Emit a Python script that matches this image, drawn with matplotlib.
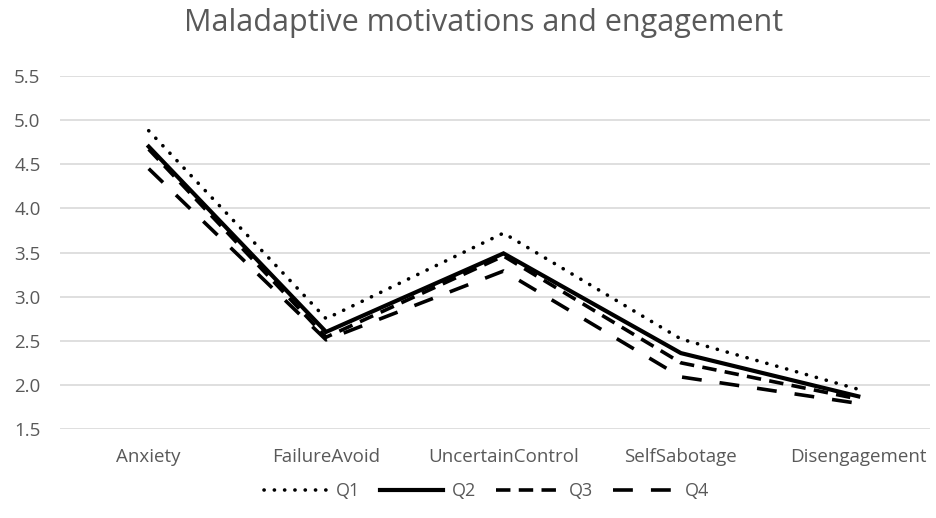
import numpy as np
import matplotlib
matplotlib.use("Agg")
from matplotlib import pyplot as plt

# values
categories = ["Anxiety", "FailureAvoid", "UncertainControl", "SelfSabotage", "Disengagement"]
q1 = [4.88, 2.75, 3.72, 2.52, 1.95]
q2 = [4.70, 2.60, 3.49, 2.36, 1.87]
q3 = [4.67, 2.54, 3.46, 2.25, 1.84]
q4 = [4.45, 2.51, 3.29, 2.09, 1.79]
yticks = [1.5, 2.0, 2.5, 3.0, 3.5, 4.0, 4.5, 5.0, 5.5]

plt.rcParams['font.family'] = ['Open Sans', 'DejaVu Sans']
grey = '#595959'

fig = plt.figure(figsize=(9.36, 5.18), dpi=100)
ax = fig.add_axes([60/936, (518-429)/518, (930-60)/936, (429-76)/518])

x = np.arange(len(categories))
lw = 2.6
ax.plot(x, q1, color='black', lw=lw, linestyle=(0, (0.05, 2.8)),
        dash_capstyle='round', label='Q1')
ax.plot(x, q2, color='black', lw=lw + 0.4, solid_joinstyle='miter', label='Q2')
ax.plot(x, q3, color='black', lw=lw, linestyle=(0, (4.0, 2.3)), label='Q3')
ax.plot(x, q4, color='black', lw=lw, linestyle=(0, (5.5, 5.0)), label='Q4')

ax.set_xlim(-0.5, 4.5 - 17/177.5)
ax.set_ylim(1.5, 5.5)
ax.set_yticks(yticks)
ax.set_yticklabels(['%.1f' % v for v in yticks])
ax.set_xticks(x)
ax.set_xticklabels(categories)
ax.grid(axis='y', color='#d9d9d9', lw=1.2)
ax.set_axisbelow(True)
for s in ax.spines.values():
    s.set_visible(False)
ax.tick_params(axis='both', length=0, labelsize=13.5, colors=grey)
ax.tick_params(axis='y', pad=14)
ax.tick_params(axis='x', pad=14)

fig.suptitle('Maladaptive motivations and engagement', x=0.517, y=0.985, fontsize=22, color=grey)

leg = ax.legend(loc='upper center', bbox_to_anchor=(0.49, -0.105), ncol=4, frameon=False,
                fontsize=13, handlelength=3.5, columnspacing=1.1, handletextpad=0.5)
for t in leg.get_texts():
    t.set_color(grey)

fig.savefig('out.png', dpi=100, facecolor='white')
